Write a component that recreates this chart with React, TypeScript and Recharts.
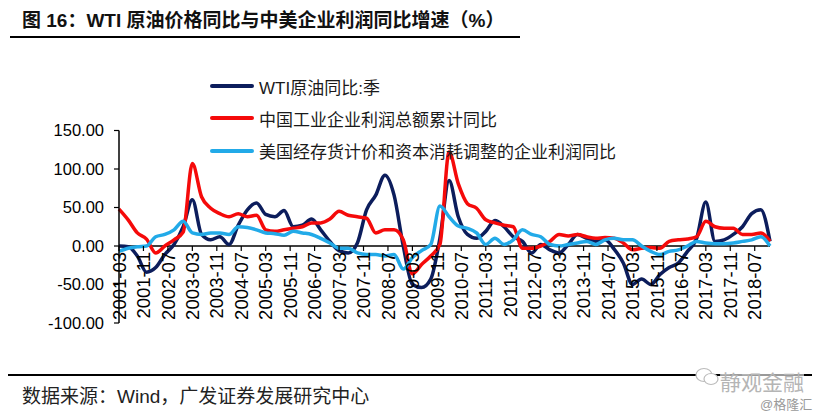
import React from "react";
import { LineChart, Line, XAxis, YAxis, ReferenceLine } from "recharts";

// quarterly points, 2001-03 .. 2018-12
const years = [2001, 2002, 2003, 2004, 2005, 2006, 2007, 2008, 2009, 2010, 2011, 2012, 2013, 2014, 2015, 2016, 2017, 2018];
const quarterEnds = ["03", "06", "09", "12"];
const periods: string[] = [];
years.forEach((y) => quarterEnds.forEach((q) => periods.push(`${y}-${q}`)));

const wtiYoy = [
  0, -1, -13, -34, -28, -11, 2, 25, 60, 15,
  8, 12, 2, 27, 47, 56, 41, 38, 46, 25,
  27, 35, 21, 6, -6, -9, 4, 47, 66, 92,
  66, 0, -50, -54, -43, 10, 85, 38, 15, 10,
  19, 33, 25, 12, 6, -9, 2, -5, -9, 2,
  15, 10, 6, 8, -4, -22, -50, -43, -50, -37,
  -28, -22, -7, 10, 57, 6, 8, 15, 25, 42,
  47, 6,
];

const cnProfitYoy = [
  48, 34, 17, 9, -9, 0, 8, 18, 107, 64,
  49, 42, 38, 42, 38, 40, 21, 19, 21, 23,
  25, 30, 30, 35, 45, 40, 38, 36, 17, 21,
  21, 8, -36, -24, -13, 2, 122, 81, 55, 49,
  34, 30, 27, 25, -3, -3, 0, 6, 15, 13,
  15, 12, 10, 11, 10, 4, -5, -3, -2, -3,
  6, 8, 9, 12, 32, 25, 23, 23, 15, 15,
  17, 6,
];

const usProfitYoy = [
  -7, -3, -1, 0, 12, 15, 21, 32, 17, 15,
  17, 17, 15, 25, 24, 21, 17, 16, 14, 19,
  17, 15, 10, 4, -3, -3, -9, -11, -11, -13,
  -11, -30, -15, -6, 2, 52, 38, 26, 23, 17,
  2, 10, 2, 8, 21, 15, 12, 2, 0, 2,
  4, 6, 2, 8, 10, 8, 8, 0, -7, -11,
  -7, -5, 0, 6, 4, 3, 3, 4, 6, 8,
  12, 0,
];

const tickLabels = [
  "2001-03", "2001-11", "2002-07", "2003-03", "2003-11", "2004-07", "2005-03",
  "2005-11", "2006-07", "2007-03", "2007-11", "2008-07", "2009-03", "2009-11",
  "2010-07", "2011-03", "2011-11", "2012-07", "2013-03", "2013-11", "2014-07",
  "2015-03", "2015-11", "2016-07", "2017-03", "2017-11", "2018-07",
];
const yTicks = [-100, -50, 0, 50, 100, 150];

const seriesNames = ["WTI原油同比:季", "中国工业企业利润总额累计同比", "美国经存货计价和资本消耗调整的企业利润同比"];
const colors = ["#0c1d5c", "#f50a0a", "#22aae8"];

const monthIndex = (p: string) => (Number(p.slice(0, 4)) - 2001) * 12 + Number(p.slice(5)) - 3;

const data = periods.map((p, i) => ({
  m: monthIndex(p),
  wti: wtiYoy[i],
  cn: cnProfitYoy[i],
  us: usProfitYoy[i],
}));

const W = 821;
const H = 416;
const PLOT_TOP = 130.5;
const PLOT_BOTTOM = 323;
const Y_MIN = -100;
const Y_MAX = 150;
const ZERO_Y = PLOT_TOP + (Y_MAX / (Y_MAX - Y_MIN)) * (PLOT_BOTTOM - PLOT_TOP);

const latin = '"Liberation Sans", Arial, "Noto Sans CJK SC", sans-serif';

function MonthTick({ x, payload }: any) {
  const label = tickLabels.find((l) => monthIndex(l) === payload.value) ?? "";
  return (
    <g transform={`translate(${x},${ZERO_Y})`}>
      <line x1={0} y1={0} x2={0} y2={5} stroke="#000" strokeWidth={1.2} />
      <text
        transform="rotate(-90)"
        x={-6}
        y={0}
        dy="0.36em"
        textAnchor="end"
        fontSize={18.5}
        fontFamily={latin}
        fill="#000"
      >
        {label}
      </text>
    </g>
  );
}

function LegendBox() {
  return (
    <div style={{ position: "absolute", left: 210, top: 70, fontFamily: latin, fontSize: 17, color: "#1a1a1a" }}>
      {seriesNames.map((n, i) => (
        <div key={n} style={{ display: "flex", alignItems: "center", height: 32.3 }}>
          <div style={{ width: 44, height: 4, borderRadius: 2, background: colors[i], marginRight: 5 }} />
          <span style={{ whiteSpace: "nowrap" }}>{n}</span>
        </div>
      ))}
    </div>
  );
}

export default function App() {
  return (
    <div style={{ position: "absolute", left: 0, top: 0, width: W, height: H, background: "#fff", fontFamily: latin }}>
      <div style={{ position: "absolute", left: 22, top: 5, fontSize: 19, fontWeight: 700, color: "#111", whiteSpace: "nowrap" }}>
        图 16：WTI 原油价格同比与中美企业利润同比增速（%）
      </div>
      <div style={{ position: "absolute", left: 10, top: 36, width: 510, height: 2, background: "#000" }} />

      <div style={{ position: "absolute", left: 0, top: 0 }}>
        <LineChart width={W} height={H} data={data} margin={{ top: PLOT_TOP, right: 51, bottom: H - PLOT_BOTTOM - 1, left: 0 }}>
          <XAxis
            type="number"
            dataKey="m"
            domain={[0, 213]}
            ticks={tickLabels.map(monthIndex)}
            interval={0}
            height={1}
            axisLine={false}
            tickLine={false}
            tick={<MonthTick />}
          />
          <YAxis
            width={119}
            domain={[Y_MIN, Y_MAX]}
            ticks={yTicks}
            interval={0}
            tickFormatter={(v: number) => v.toFixed(2)}
            axisLine={{ stroke: "#000", strokeWidth: 1.5 }}
            tickLine={{ stroke: "#000", strokeWidth: 1.2 }}
            tickSize={5}
            tickMargin={10}
            tick={{ fontSize: 16.5, fill: "#000", fontFamily: latin }}
          />
          <ReferenceLine y={0} stroke="#000" strokeWidth={1.5} />
          <Line type="monotone" dataKey="wti" name={seriesNames[0]} stroke={colors[0]} strokeWidth={3.5} dot={false} activeDot={false} isAnimationActive={false} />
          <Line type="monotone" dataKey="cn" name={seriesNames[1]} stroke={colors[1]} strokeWidth={3.5} dot={false} activeDot={false} isAnimationActive={false} />
          <Line type="monotone" dataKey="us" name={seriesNames[2]} stroke={colors[2]} strokeWidth={3.5} dot={false} activeDot={false} isAnimationActive={false} />
        </LineChart>
      </div>
      <LegendBox />

      <div style={{ position: "absolute", left: 8, top: 374, width: 804, height: 2, background: "#000" }} />
      <div style={{ position: "absolute", left: 22, top: 381, fontSize: 19, color: "#222", whiteSpace: "nowrap" }}>
        数据来源：Wind，广发证券发展研究中心
      </div>
      <svg style={{ position: "absolute", left: 694, top: 366 }} width={26} height={22}>
        <ellipse cx={10} cy={9} rx={8} ry={6.5} fill="#fff" stroke="#bbb" strokeWidth={1.2} />
        <ellipse cx={17} cy={13} rx={7} ry={5.5} fill="#fff" stroke="#bbb" strokeWidth={1.2} />
      </svg>
      <div style={{ position: "absolute", left: 720, top: 366, fontSize: 21, color: "#b5b5b5", whiteSpace: "nowrap", background: "rgba(255,255,255,0.6)" }}>
        静观金融
      </div>
      <div style={{ position: "absolute", left: 760, top: 394, fontSize: 13, color: "#9a9a9a", whiteSpace: "nowrap" }}>
        @格隆汇
      </div>
    </div>
  );
}
